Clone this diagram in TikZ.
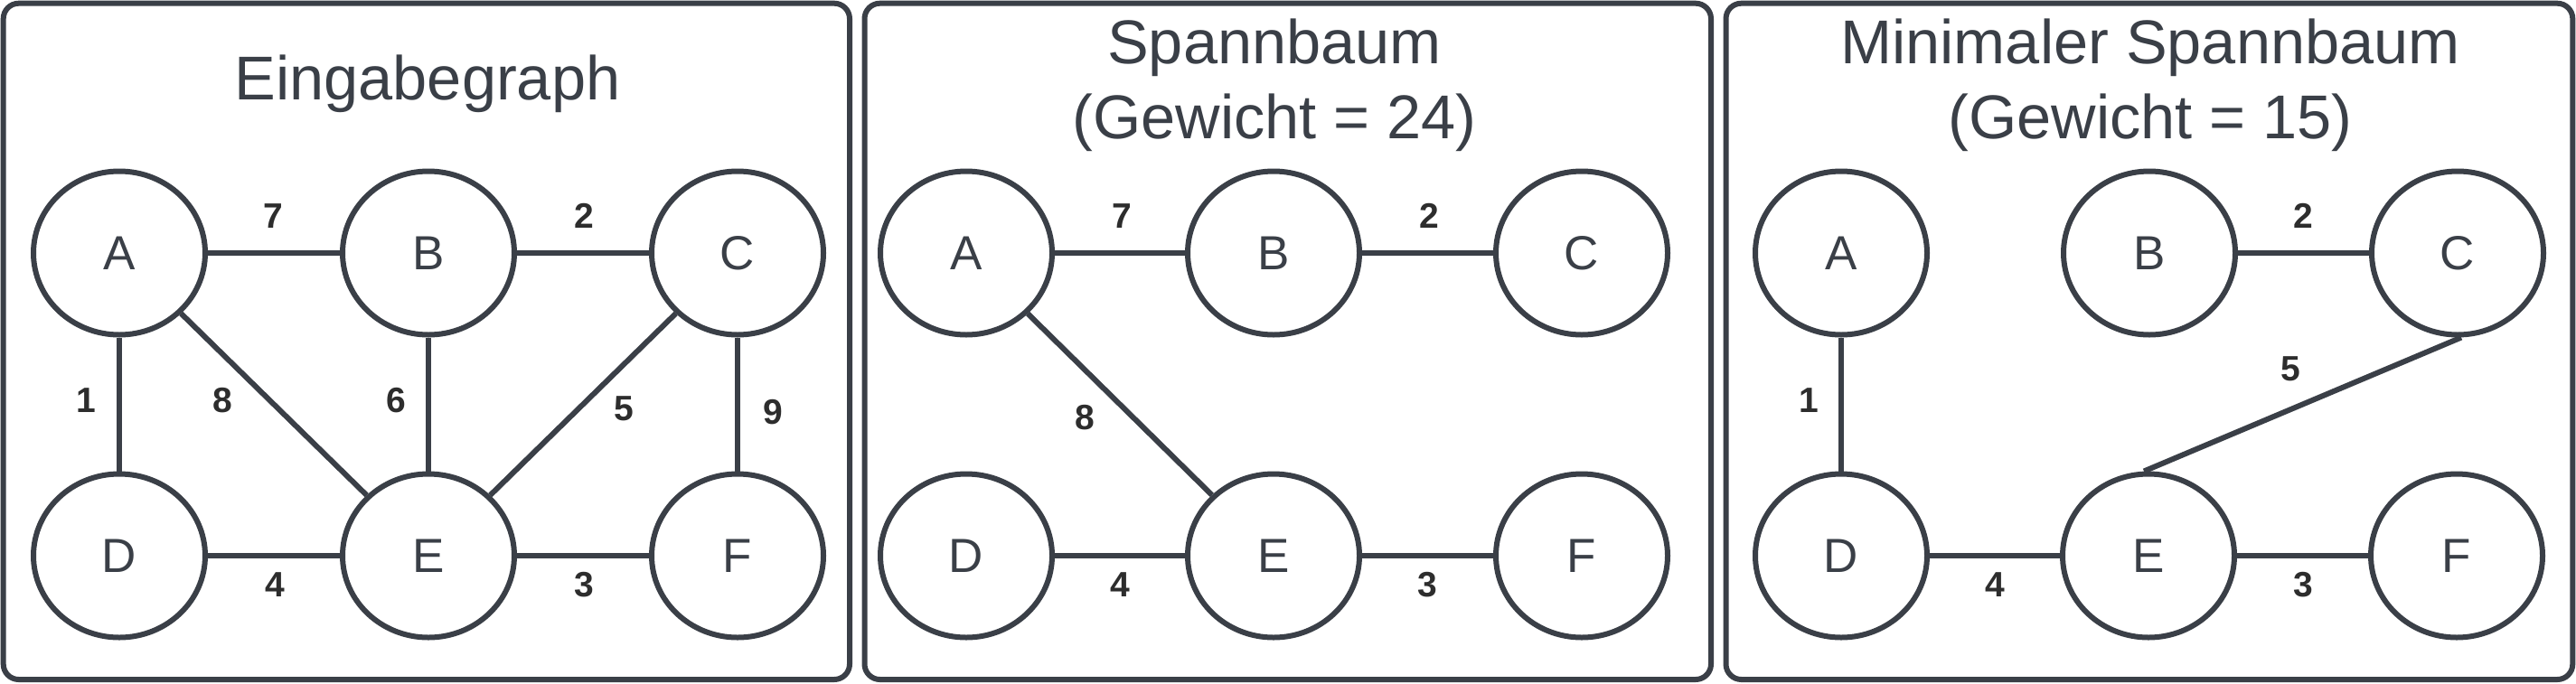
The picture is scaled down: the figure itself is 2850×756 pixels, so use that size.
\documentclass[tikz,border=0pt]{standalone}
\usepackage{fontspec}
\setmainfont{Liberation Sans}
\usetikzlibrary{shapes.geometric}
\definecolor{ink}{HTML}{3A3F47}
\definecolor{lab}{HTML}{2D2D2D}
\tikzset{
  panel/.style={draw=ink, line width=6pt, rounded corners=17pt},
  vert/.style={ellipse, draw=ink, line width=6pt, minimum width=190pt, minimum height=181pt, inner sep=0pt, text=ink, font=\fontsize{53}{60}\selectfont},
  edge/.style={draw=ink, line width=6pt},
  wlabel/.style={text=lab, inner sep=0pt, font=\fontsize{39}{44}\selectfont\bfseries},
  title/.style={text=ink, inner sep=0pt, anchor=base, font=\fontsize{68.5}{80}\selectfont},
}
\begin{document}
\begin{tikzpicture}[x=1pt,y=-1pt]
\useasboundingbox (0,0) rectangle (2850,756);
% panels
\draw[panel] (3.7,3.7) rectangle (940,752);
\draw[panel] (956.5,3.7) rectangle (1893,752);
\draw[panel] (1909.5,3.7) rectangle (2846.3,752);

% ---------- Panel 1 ----------
\node[title] (t1) at (473,110) {Eingabegraph};
\node[vert] (A1) at (132,280) {A};
\node[vert] (B1) at (474,280) {B};
\node[vert] (C1) at (816,280) {C};
\node[vert] (D1) at (132,615) {D};
\node[vert] (E1) at (474,615) {E};
\node[vert] (F1) at (816,615) {F};
\draw[edge] (A1) -- (B1);
\draw[edge] (B1) -- (C1);
\draw[edge] (A1) -- (D1);
\draw[edge] (A1) -- (E1);
\draw[edge] (B1) -- (E1);
\draw[edge] (C1) -- (E1);
\draw[edge] (C1) -- (F1);
\draw[edge] (D1) -- (E1);
\draw[edge] (E1) -- (F1);
\node[wlabel] (l1ab) at (302,239) {7};
\node[wlabel] (l1bc) at (646,239) {2};
\node[wlabel] (l1ad) at (95,443) {1};
\node[wlabel] (l1ae) at (246,443) {8};
\node[wlabel] (l1be) at (438,443) {6};
\node[wlabel] (l1ce) at (690,452) {5};
\node[wlabel] (l1cf) at (855,456) {9};
\node[wlabel] (l1de) at (304,647) {4};
\node[wlabel] (l1ef) at (646,647) {3};

% ---------- Panel 2 ----------
\node[title] (t2a) at (1410,70) {Spannbaum};
\node[title] (t2b) at (1410,153) {(Gewicht = 24)};
\node[vert] (A2) at (1069,280) {A};
\node[vert] (B2) at (1409,280) {B};
\node[vert] (C2) at (1750,280) {C};
\node[vert] (D2) at (1069,615) {D};
\node[vert] (E2) at (1409,615) {E};
\node[vert] (F2) at (1750,615) {F};
\draw[edge] (A2) -- (B2);
\draw[edge] (B2) -- (C2);
\draw[edge] (A2) -- (E2);
\draw[edge] (D2) -- (E2);
\draw[edge] (E2) -- (F2);
\node[wlabel] (l2ab) at (1241,239) {7};
\node[wlabel] (l2bc) at (1581,239) {2};
\node[wlabel] (l2ae) at (1200,462) {8};
\node[wlabel] (l2de) at (1239,647) {4};
\node[wlabel] (l2ef) at (1579,647) {3};

% ---------- Panel 3 ----------
\node[title] (t3a) at (2379,70) {Minimaler Spannbaum};
\node[title] (t3b) at (2379,153) {(Gewicht = 15)};
\node[vert] (A3) at (2037,280) {A};
\node[vert] (B3) at (2378,280) {B};
\node[vert] (C3) at (2719,280) {C};
\node[vert] (D3) at (2037,615) {D};
\node[vert] (E3) at (2377,615) {E};
\node[vert] (F3) at (2718,615) {F};
\draw[edge] (B3) -- (C3);
\draw[edge] (A3) -- (D3);
\draw[edge] ([xshift=4pt]C3.south) -- ([xshift=-5pt]E3.north);
\draw[edge] (D3) -- (E3);
\draw[edge] (E3) -- (F3);
\node[wlabel] (l3bc) at (2548,239) {2};
\node[wlabel] (l3ad) at (2001,443) {1};
\node[wlabel] (l3ce) at (2534,408) {5};
\node[wlabel] (l3de) at (2207,647) {4};
\node[wlabel] (l3ef) at (2548,647) {3};
\end{tikzpicture}
\end{document}
